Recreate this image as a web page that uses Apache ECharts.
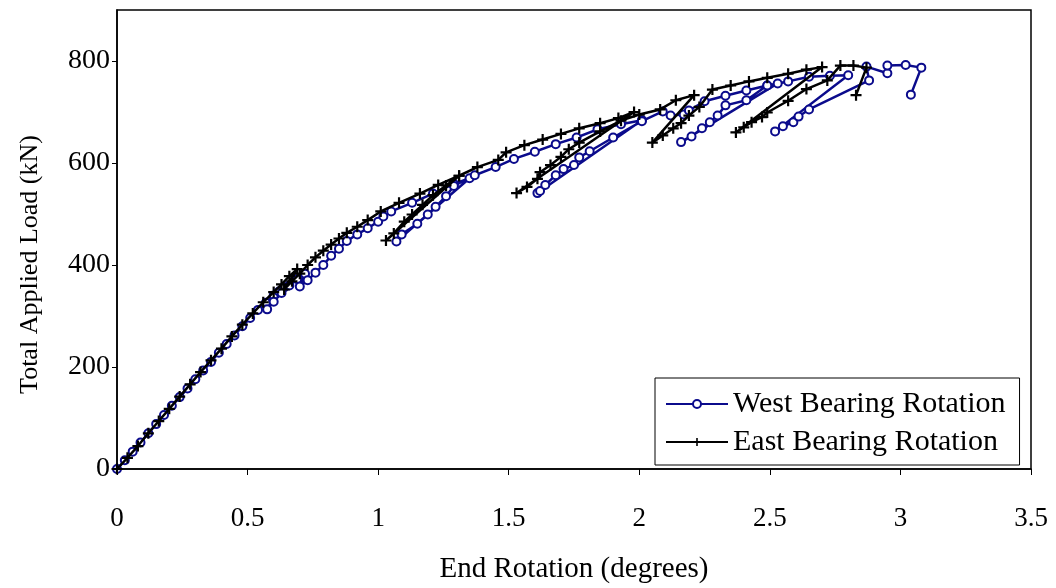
<!DOCTYPE html>
<html><head><meta charset="utf-8">
<script src="https://cdn.jsdelivr.net/npm/echarts@6/dist/echarts.min.js"></script>
<style>html,body{margin:0;padding:0;background:#fff}#c{width:1056px;height:588px}</style>
</head><body><div id="c"></div>
<script>
// West Bearing Rotation: [end rotation (deg), total load (kN)]
const westX = [0,0.03,0.06,0.09,0.12,0.15,0.18,0.21,0.24,0.27,0.30,0.33,0.36,0.39,0.42,0.45,0.48,0.51,0.54,0.57,0.60,0.62,0.64,0.575,0.60,0.63,0.66,0.69,0.72,0.70,0.73,0.76,0.79,0.82,0.85,0.88,0.92,0.96,1.00,1.02,1.05,1.13,1.21,1.29,1.35,1.07,1.09,1.15,1.19,1.22,1.26,1.29,1.37,1.45,1.52,1.60,1.68,1.76,1.84,1.93,2.01,1.61,1.62,1.64,1.68,1.71,1.75,1.77,1.81,1.90,2.01,2.09,2.12,2.17,2.19,2.25,2.33,2.41,2.49,2.53,2.16,2.20,2.24,2.27,2.30,2.33,2.41,2.49,2.57,2.65,2.73,2.80,2.52,2.55,2.59,2.61,2.65,2.88,2.87,2.95,2.95,3.02,3.08,3.04];
const westY = [0,17,34,52,70,88,106,124,141,158,176,193,210,228,245,262,280,296,312,326,340,348,356,313,328,345,360,372,383,358,370,385,400,418,432,447,460,472,485,495,505,522,540,559,570,446,460,481,499,514,535,555,576,592,608,622,637,650,666,676,684,541,545,557,576,588,596,611,623,650,682,701,693,695,703,721,732,742,752,756,641,652,668,680,693,713,723,752,760,769,771,772,662,672,680,691,705,762,789,776,791,792,787,734];
// East Bearing Rotation
const eastX = [0,0.04,0.08,0.12,0.16,0.20,0.24,0.28,0.32,0.36,0.40,0.44,0.48,0.52,0.56,0.60,0.63,0.66,0.69,0.64,0.67,0.70,0.73,0.76,0.79,0.82,0.85,0.88,0.92,0.96,1.01,1.08,1.16,1.23,1.31,1.03,1.06,1.10,1.13,1.17,1.21,1.26,1.31,1.38,1.46,1.49,1.56,1.63,1.70,1.77,1.85,1.92,1.98,1.53,1.57,1.61,1.62,1.66,1.70,1.73,1.77,1.85,1.93,2.00,2.08,2.14,2.21,2.05,2.09,2.13,2.16,2.19,2.23,2.28,2.35,2.42,2.49,2.57,2.64,2.70,2.37,2.40,2.43,2.47,2.49,2.57,2.64,2.72,2.77,2.82,2.87,2.83];
const eastY = [0,22,45,70,94,118,142,166,190,213,236,260,283,305,327,347,362,378,392,352,368,383,400,415,428,440,452,463,475,488,505,522,540,557,575,448,462,485,499,518,537,556,575,592,606,621,635,646,657,668,678,688,700,541,553,569,582,596,612,627,640,662,683,695,705,723,733,640,654,668,678,693,710,744,752,760,767,775,783,788,660,670,680,690,699,722,745,762,791,791,787,733];
const xTicks = [0,0.5,1,1.5,2,2.5,3,3.5];
const yTicks = [0,200,400,600,800];

const pair = (xs, ys) => xs.map((x, i) => [x, ys[i]]);
const serif = 'Liberation Serif';
const plus = 'path://M4,0h2v4h4v2h-4v4h-2v-4h-4v-2h4z';

const chart = echarts.init(document.getElementById('c'), null, {renderer: 'canvas'});
chart.setOption({
  animation: false,
  backgroundColor: '#fff',
  textStyle: {fontFamily: serif},
  grid: {left: 117, right: 25, top: 10, bottom: 119, show: true, borderColor: '#000', borderWidth: 1.5,
    backgroundColor: 'transparent', containLabel: false, outerBoundsMode: 'none'},
  xAxis: {
    type: 'value', min: 0, max: 3.5, interval: 0.5,
    name: 'End Rotation (degrees)', nameLocation: 'middle', nameGap: 86,
    nameTextStyle: {fontFamily: serif, fontSize: 29, color: '#000'},
    axisLine: {show: true, onZero: false, lineStyle: {color: '#000', width: 1.5}},
    axisTick: {show: true, inside: false, length: 6, lineStyle: {color: '#000', width: 1}},
    axisLabel: {fontFamily: serif, fontSize: 27, color: '#000', margin: 36,
      formatter: v => xTicks.includes(v) ? String(v) : ''},
    splitLine: {show: false}
  },
  yAxis: {
    type: 'value', min: 0, max: 900, interval: 200,
    name: 'Total Applied Load (kN)', nameLocation: 'middle', nameGap: 74, nameRotate: 90,
    nameTextStyle: {fontFamily: serif, fontSize: 26, color: '#000', padding: [0, 50, 0, 0]},
    axisLine: {show: true, lineStyle: {color: '#000', width: 1.5}},
    axisTick: {show: true, inside: false, length: 5, lineStyle: {color: '#000', width: 1}},
    axisLabel: {fontFamily: serif, fontSize: 28, color: '#000', margin: 7, showMaxLabel: false,
      formatter: v => yTicks.includes(v) ? String(v) : ''},
    splitLine: {show: false}
  },
  legend: {
    left: 655, top: 378, orient: 'vertical',
    backgroundColor: '#fff', borderColor: '#000', borderWidth: 1,
    padding: [11, 14, 8, 10], itemGap: 8, itemWidth: 62, itemHeight: 10,
    textStyle: {fontFamily: serif, fontSize: 30, color: '#000'},
    data: ['West Bearing Rotation', 'East Bearing Rotation']
  },
  series: [
    {
      name: 'West Bearing Rotation', type: 'line', data: pair(westX, westY),
      symbol: 'emptyCircle', symbolSize: 8, showAllSymbol: true,
      lineStyle: {color: '#0b0b8c', width: 2.5},
      itemStyle: {color: '#0b0b8c', borderColor: '#0b0b8c', borderWidth: 1.5},
      z: 2
    },
    {
      name: 'East Bearing Rotation', type: 'line', data: pair(eastX, eastY),
      symbol: plus, symbolSize: 11, showAllSymbol: true,
      lineStyle: {color: '#000', width: 2.5},
      itemStyle: {color: '#000', borderWidth: 0},
      z: 3
    }
  ]
});
</script></body></html>
